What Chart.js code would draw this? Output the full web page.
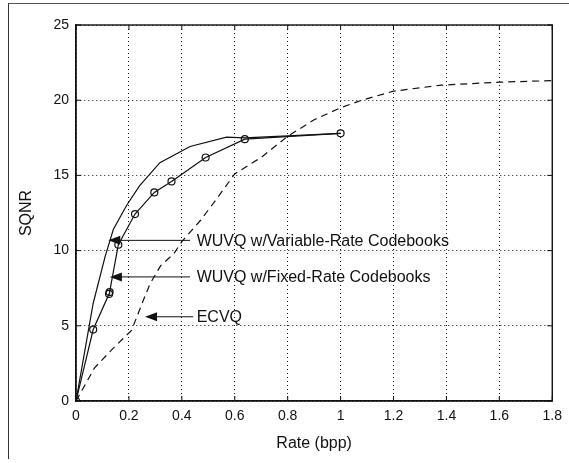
<!DOCTYPE html>
<html lang="en">
<head>
  <meta charset="UTF-8">
  <title>SQNR vs Rate</title>
  <script src="https://cdn.jsdelivr.net/npm/chart.js"></script>
  <style>
    body { margin: 0; background: #fff; }
    #wrap { position: relative; width: 569px; height: 463px; }
    #frame { position: absolute; left: 8px; top: 3px; width: 561px; height: 455px;
             border-left: 1.5px solid #333; border-top: 1.5px solid #555; pointer-events: none; }
  </style>
</head>
<body>
<div id="wrap">
  <canvas id="chart" width="569" height="463"></canvas>
  <div id="frame"></div>
</div>
<script>
// WUVQ with variable-rate codebooks (solid line, no markers)
const varRate = [0, 0.065, 0.11, 0.141, 0.191, 0.24, 0.317, 0.431, 0.569, 0.638, 1.0];
const varSqnr = [0, 6.5, 9.6, 11.4, 13.0, 14.3, 15.85, 16.92, 17.54, 17.5, 17.8];

// WUVQ with fixed-rate codebooks (solid line, circle markers)
const fixRate = [0, 0.065, 0.125, 0.127, 0.160, 0.223, 0.296, 0.361, 0.490, 0.638, 1.0];
const fixSqnr = [0, 4.75, 7.12, 7.24, 10.39, 12.43, 13.87, 14.6, 16.19, 17.41, 17.8];

// ECVQ (dashed)
const ecvqRate = [0, 0.07, 0.14, 0.21, 0.25, 0.28, 0.32, 0.37, 0.40, 0.47, 0.53, 0.60, 0.70, 0.80, 0.90, 1.0, 1.08, 1.2, 1.38, 1.6, 1.8];
const ecvqSqnr = [0, 2.2, 3.5, 4.7, 6.5, 7.8, 9.0, 9.8, 10.6, 12.0, 13.4, 15.1, 16.2, 17.6, 18.7, 19.5, 20.0, 20.6, 21.0, 21.2, 21.3];

const xTicks = [0, 0.2, 0.4, 0.6, 0.8, 1, 1.2, 1.4, 1.6, 1.8];
const yTicks = [0, 5, 10, 15, 20, 25];

// annotation labels: text, text x, y, arrow tip x, line end x
const noteText = ["WUVQ w/Variable-Rate Codebooks", "WUVQ w/Fixed-Rate Codebooks", "ECVQ"];
const noteX = [0.456, 0.456, 0.456];
const noteY = [10.68, 8.25, 5.6];
const noteTip = [0.122, 0.128, 0.261];
const noteEnd = [0.431, 0.431, 0.443];

const toPts = (xs, ys) => xs.map((x, i) => ({ x: x, y: ys[i] }));
const ink = '#111';
const font = "'Liberation Sans', Arial, Helvetica, sans-serif";

// box round the plot and inward ticks, as in the original figure
const boxAndTicks = {
  id: 'boxAndTicks',
  afterDraw(chart) {
    const { ctx, chartArea: a, scales: { x, y } } = chart;
    ctx.save();
    ctx.strokeStyle = ink;
    ctx.lineWidth = 1.4;
    ctx.strokeRect(a.left, a.top, a.right - a.left, a.bottom - a.top);
    ctx.lineWidth = 1;
    ctx.beginPath();
    xTicks.forEach(v => {
      const px = x.getPixelForValue(v);
      ctx.moveTo(px, a.bottom); ctx.lineTo(px, a.bottom - 5);
      ctx.moveTo(px, a.top); ctx.lineTo(px, a.top + 5);
    });
    yTicks.forEach(v => {
      const py = y.getPixelForValue(v);
      ctx.moveTo(a.left, py); ctx.lineTo(a.left + 5, py);
      ctx.moveTo(a.right, py); ctx.lineTo(a.right - 5, py);
    });
    ctx.stroke();
    ctx.restore();
  }
};

const notes = {
  id: 'notes',
  afterDatasetsDraw(chart) {
    const { ctx, scales: { x, y } } = chart;
    ctx.save();
    ctx.fillStyle = ink;
    ctx.strokeStyle = ink;
    ctx.lineWidth = 1;
    ctx.font = '16px ' + font;
    ctx.textBaseline = 'middle';
    noteText.forEach((t, i) => {
      const py = y.getPixelForValue(noteY[i]);
      const tip = x.getPixelForValue(noteTip[i]);
      const end = x.getPixelForValue(noteEnd[i]);
      ctx.beginPath();
      ctx.moveTo(tip + 10, py); ctx.lineTo(end, py);
      ctx.stroke();
      ctx.beginPath();
      ctx.moveTo(tip, py); ctx.lineTo(tip + 12, py - 4.5); ctx.lineTo(tip + 12, py + 4.5);
      ctx.closePath();
      ctx.fill();
      ctx.fillText(t, x.getPixelForValue(noteX[i]), py + 1);
    });
    ctx.restore();
  }
};

new Chart(document.getElementById('chart'), {
  type: 'scatter',
  data: {
    datasets: [
      {
        label: 'WUVQ w/Variable-Rate Codebooks',
        data: toPts(varRate, varSqnr),
        showLine: true, borderColor: ink, borderWidth: 1.2, pointRadius: 0
      },
      {
        label: 'WUVQ w/Fixed-Rate Codebooks',
        data: toPts(fixRate, fixSqnr),
        showLine: true, borderColor: ink, borderWidth: 1.2,
        pointRadius: 3.5, pointBorderWidth: 1.2, pointBackgroundColor: 'rgba(0,0,0,0)', pointBorderColor: ink
      },
      {
        label: 'ECVQ',
        data: toPts(ecvqRate, ecvqSqnr),
        showLine: true, borderColor: ink, borderWidth: 1.2, borderDash: [7, 5], pointRadius: 0
      }
    ]
  },
  options: {
    responsive: false,
    animation: false,
    layout: { padding: { top: 25, right: 16, left: 0, bottom: 0 } },
    plugins: { legend: { display: false }, tooltip: { enabled: false } },
    scales: {
      x: {
        type: 'linear', min: 0, max: 1.8,
        afterBuildTicks: s => { s.ticks = xTicks.map(v => ({ value: v })); },
        afterFit: s => { s.height = 62; },
        ticks: { color: ink, font: { family: font, size: 14 }, padding: 7, maxRotation: 0,
                 callback: v => String(v) },
        grid: { color: ink, lineWidth: 1, drawTicks: false },
        border: { color: ink, width: 1.3, dash: [1, 3] },
        title: { display: true, text: 'Rate (bpp)', color: ink, font: { family: font, size: 16 },
                 padding: { top: 0, bottom: 10 } }
      },
      y: {
        type: 'linear', min: 0, max: 25,
        afterBuildTicks: s => { s.ticks = yTicks.map(v => ({ value: v })); },
        afterFit: s => { s.width = 76; },
        ticks: { color: ink, font: { family: font, size: 14 }, padding: 7,
                 callback: v => String(v) },
        grid: { color: ink, lineWidth: 1, drawTicks: false },
        border: { color: ink, width: 1.3, dash: [1, 3] },
        title: { display: true, text: 'SQNR', color: ink, font: { family: font, size: 16 },
                 padding: { top: 17, bottom: 0 } }
      }
    }
  },
  plugins: [boxAndTicks, notes]
});
</script>
</body>
</html>
